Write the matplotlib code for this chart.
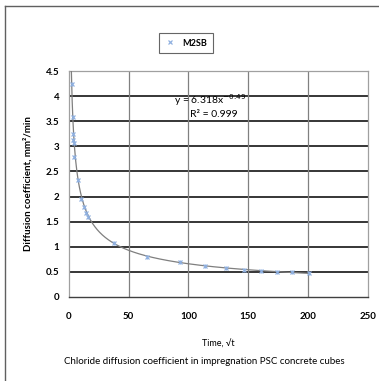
import matplotlib.pyplot as plt
from matplotlib.lines import Line2D
import numpy as np

plt.rcParams['font.family'] = ['Lato', 'DejaVu Sans']

# data (x = sqrt of time)
time_sqrt = [2.2, 3.1, 3.6, 3.7, 3.8, 4.5, 7.5, 10.3, 12.8, 14.5, 16.2,
             37.5, 65.5, 92.7, 114.2, 131.5, 146.7, 161.0, 174.0, 186.7, 200.6]
diff_coef = [4.24, 3.59, 3.24, 3.13, 3.06, 2.78, 2.34, 1.96, 1.79, 1.67, 1.59,
             1.07, 0.80, 0.69, 0.62, 0.57, 0.54, 0.52, 0.50, 0.49, 0.47]
fit_a = 6.318
fit_b = -0.49
x_ticks = [0, 50, 100, 150, 200, 250]
y_ticks = [0, 0.5, 1, 1.5, 2, 2.5, 3, 3.5, 4, 4.5]

fig = plt.figure(figsize=(3.79, 3.81), dpi=100)
ax = fig.add_axes([0.182, 0.2205, 0.788, 0.593])

# power trendline
xf = np.linspace(1.0, max(time_sqrt), 600)
ax.plot(xf, fit_a * xf ** fit_b, color='#7f7f7f', lw=0.9, zorder=3)

ax.plot(time_sqrt, diff_coef, ls='none', marker='x', ms=3.5, mew=0.9,
        color='#8fb0e0', zorder=4)
ax.plot(time_sqrt, diff_coef, ls='none', marker='|', ms=3.5, mew=0.7,
        color='#8fb0e0', zorder=4)

ax.set_xlim(0, 250)
ax.set_ylim(0, 4.5)
ax.set_xticks(x_ticks)
ax.set_yticks(y_ticks)
ax.set_yticklabels(['0', '0.5', '1', '1.5', '2', '2.5', '3', '3.5', '4', '4.5'])

for y in y_ticks[1:-1]:
    ax.axhline(y, color='#262626', lw=1.3, zorder=1)
for x in x_ticks[1:-1]:
    ax.axvline(x, color='#808080', lw=0.9, zorder=1)

for s in ['top', 'right', 'left']:
    ax.spines[s].set_color('#a0a0a0')
    ax.spines[s].set_linewidth(0.9)
ax.spines['bottom'].set_color('#404040')
ax.spines['bottom'].set_linewidth(1.0)

ax.tick_params(length=0, labelsize=7)
ax.tick_params(axis='x', pad=11)
ax.tick_params(axis='y', pad=7)
for lab in ax.get_xticklabels() + ax.get_yticklabels():
    lab.set_fontweight('bold')

ax.set_ylabel('Diffusion coefficient, mm²/min', fontsize=7, fontweight='bold',
              labelpad=9)
ax.set_xlabel('Time, √t', fontsize=6.5, labelpad=13)

ax.text(118, 3.92, 'y = 6.318x$^{-0.49}$', fontsize=7.5, ha='center', va='center')
ax.text(121, 3.63, 'R² = 0.999', fontsize=7.5, ha='center', va='center')

handle = Line2D([], [], ls='none', marker='x', ms=3.5, mew=0.9, color='#8fb0e0')
leg = fig.legend([handle], ['M2SB'], loc='center', bbox_to_anchor=(0.491, 0.887),
                 fontsize=6.5, frameon=True, fancybox=False, handlelength=1.2,
                 handletextpad=0.8, borderpad=0.6, edgecolor='#404040')
leg.get_frame().set_linewidth(0.8)
for t in leg.get_texts():
    t.set_fontweight('bold')

fig.text(0.538, 0.05, 'Chloride diffusion coefficient in impregnation PSC concrete cubes',
         fontsize=7, ha='center', va='center')

# outer frame (top and left only)
fig.add_artist(Line2D([0.014, 1.0], [0.984, 0.984], color='#606060', lw=1.0,
                      transform=fig.transFigure))
fig.add_artist(Line2D([0.014, 0.014], [0.0, 0.984], color='#606060', lw=1.0,
                      transform=fig.transFigure))

fig.savefig('out.png', dpi=100)
